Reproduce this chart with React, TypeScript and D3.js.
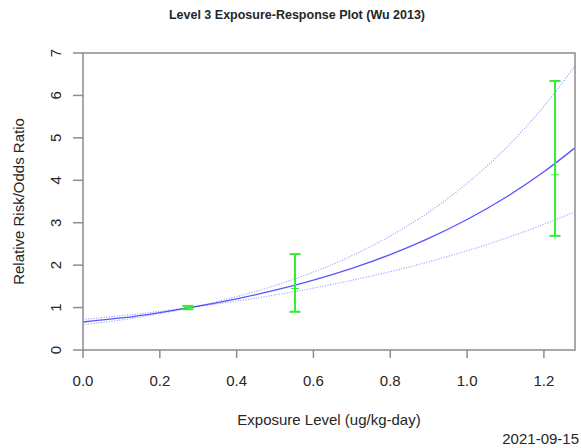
import React from "react";
import * as d3 from "d3";

// Fitted exposure-response curve (central estimate and confidence bounds)
const curveX = [0, 0.1, 0.2, 0.3, 0.4, 0.5, 0.6, 0.7, 0.8, 0.9, 1.0, 1.1, 1.2, 1.28];
const curveCentral = [0.66, 0.755, 0.883, 1.032, 1.206, 1.409, 1.647, 1.925, 2.25, 2.631, 3.075, 3.594, 4.2, 4.758];
const curveUpper = [0.6, 0.71, 0.859, 1.039, 1.256, 1.519, 1.837, 2.221, 2.686, 3.248, 3.928, 4.75, 5.743, 6.686];
const curveLower = [0.72, 0.809, 0.91, 1.024, 1.152, 1.297, 1.459, 1.642, 1.847, 2.078, 2.339, 2.632, 2.961, 3.254];

// Study dose groups: exposure, point estimate and 95% CI
const doseX = [0.273, 0.552, 1.229];
const doseRR = [1.0, 1.45, 4.13];
const doseLo = [0.96, 0.9, 2.69];
const doseHi = [1.04, 2.26, 6.34];

const xTicks = [0, 0.2, 0.4, 0.6, 0.8, 1.0, 1.2];
const yTicks = [0, 1, 2, 3, 4, 5, 6, 7];

const W = 581;
const H = 448;
const left = 83;
const right = 575;
const top = 53;
const bottom = 350;

const FONT = "'Liberation Sans', Arial, Helvetica, sans-serif";

export default function App() {
  const x = d3.scaleLinear().domain([0, 1.281]).range([left, right]);
  const y = d3.scaleLinear().domain([0, 7]).range([bottom, top]);

  const line = d3
    .line<number>()
    .x((_, i) => x(curveX[i]))
    .y((v) => y(v))
    .curve(d3.curveNatural);

  const boxColor = "#8c8c8c";
  const textColor = "#262626";
  const green = "#33ee33";
  const blue = "#2a2aff";

  return (
    <svg
      width={W}
      height={H}
      style={{ position: "absolute", left: 0, top: 0, background: "#fff" }}
      fontFamily={FONT}
    >
      <defs>
        <clipPath id="plotClip">
          <rect x={left} y={top} width={right - left} height={bottom - top} />
        </clipPath>
      </defs>

      <text x={297} y={19} textAnchor="middle" fontWeight="bold" fontSize={12.5} fill={textColor}>
        Level 3 Exposure-Response Plot (Wu 2013)
      </text>

      {/* curves */}
      <g clipPath="url(#plotClip)" fill="none">
        <path d={line(curveUpper) || ""} stroke={blue} strokeWidth={1.1} strokeDasharray="1 1.6" opacity={0.5} />
        <path d={line(curveLower) || ""} stroke={blue} strokeWidth={1.1} strokeDasharray="1 1.6" opacity={0.5} />
        <path d={line(curveCentral) || ""} stroke={blue} strokeWidth={1.3} opacity={0.8} />
      </g>

      {/* error bars */}
      <g stroke={green} strokeWidth={2}>
        {doseX.map((dx, i) => {
          const cx = x(dx);
          return (
            <g key={i}>
              <line x1={cx} x2={cx} y1={y(doseLo[i])} y2={y(doseHi[i])} />
              <line x1={cx - 5.5} x2={cx + 5.5} y1={y(doseLo[i])} y2={y(doseLo[i])} />
              <line x1={cx - 5.5} x2={cx + 5.5} y1={y(doseHi[i])} y2={y(doseHi[i])} />
              <line x1={cx - 4} x2={cx + 4} y1={y(doseRR[i])} y2={y(doseRR[i])} strokeWidth={1} />
            </g>
          );
        })}
      </g>

      {/* plot box */}
      <rect x={left} y={top} width={right - left} height={bottom - top} fill="none" stroke={boxColor} strokeWidth={1.5} />

      {/* y axis */}
      <g>
        {yTicks.map((t) => (
          <g key={t}>
            <line x1={left - 10} x2={left} y1={y(t)} y2={y(t)} stroke={boxColor} strokeWidth={1.5} />
            <text
              transform={`translate(61,${y(t)}) rotate(-90)`}
              textAnchor="middle"
              fontSize={15}
              fill={textColor}
            >
              {t}
            </text>
          </g>
        ))}
      </g>

      {/* x axis */}
      <g>
        {xTicks.map((t) => (
          <g key={t}>
            <line x1={x(t)} x2={x(t)} y1={bottom} y2={bottom + 8} stroke={boxColor} strokeWidth={1.5} />
            <text x={x(t)} y={386} textAnchor="middle" fontSize={15} fill={textColor}>
              {d3.format(".1f")(t)}
            </text>
          </g>
        ))}
      </g>

      <text x={(left + right) / 2} y={425} textAnchor="middle" fontSize={15} fill={textColor}>
        Exposure Level (ug/kg-day)
      </text>
      <text
        transform={`translate(24,${(top + bottom) / 2}) rotate(-90)`}
        textAnchor="middle"
        fontSize={15}
        fill={textColor}
      >
        Relative Risk/Odds Ratio
      </text>
      <text x={579} y={444} textAnchor="end" fontSize={15} fill={textColor}>
        2021-09-15
      </text>
    </svg>
  );
}
